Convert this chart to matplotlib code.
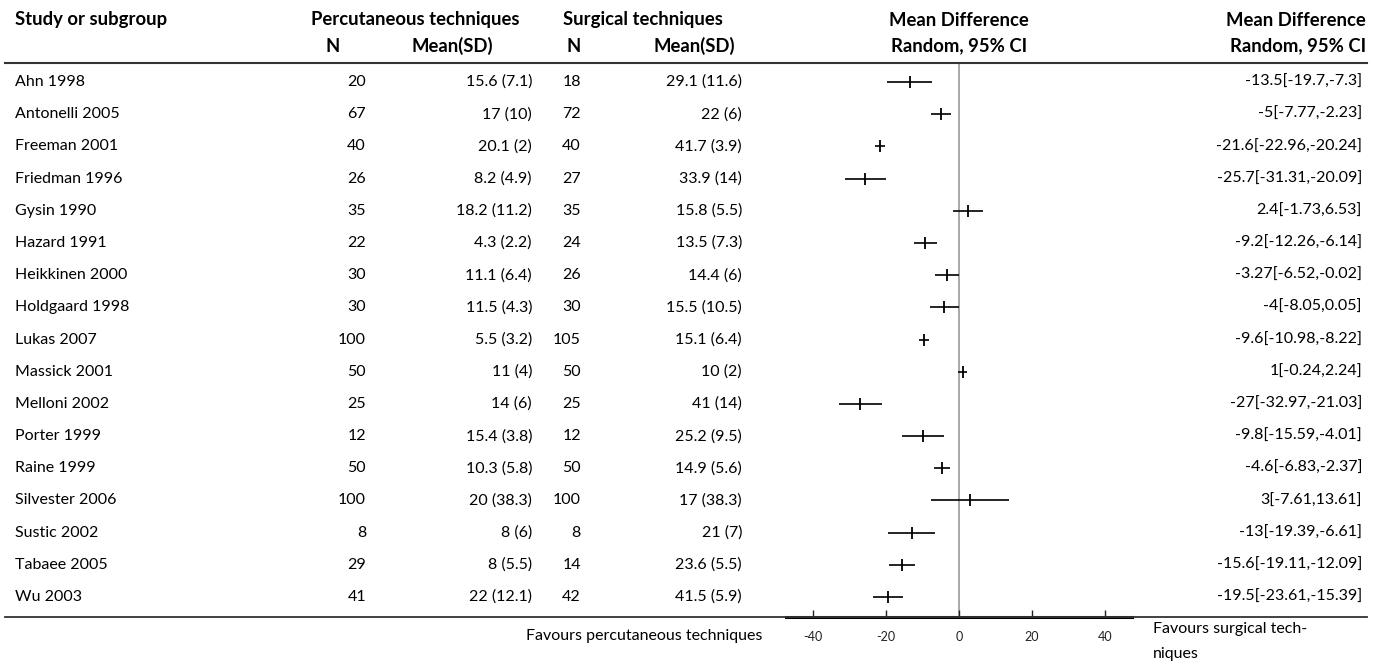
import matplotlib
matplotlib.use('Agg')
import matplotlib.pyplot as plt
import matplotlib.transforms as mtransforms

## data
studies    = ['Ahn 1998', 'Antonelli 2005', 'Freeman 2001', 'Friedman 1996', 'Gysin 1990',
              'Hazard 1991', 'Heikkinen 2000', 'Holdgaard 1998', 'Lukas 2007', 'Massick 2001',
              'Melloni 2002', 'Porter 1999', 'Raine 1999', 'Silvester 2006', 'Sustic 2002',
              'Tabaee 2005', 'Wu 2003']
perc_n     = [20, 67, 40, 26, 35, 22, 30, 30, 100, 50, 25, 12, 50, 100, 8, 29, 41]
perc_mean  = [15.6, 17, 20.1, 8.2, 18.2, 4.3, 11.1, 11.5, 5.5, 11, 14, 15.4, 10.3, 20, 8, 8, 22]
perc_sd    = [7.1, 10, 2, 4.9, 11.2, 2.2, 6.4, 4.3, 3.2, 4, 6, 3.8, 5.8, 38.3, 6, 5.5, 12.1]
surg_n     = [18, 72, 40, 27, 35, 24, 26, 30, 105, 50, 25, 12, 50, 100, 8, 14, 42]
surg_mean  = [29.1, 22, 41.7, 33.9, 15.8, 13.5, 14.4, 15.5, 15.1, 10, 41, 25.2, 14.9, 17, 21, 23.6, 41.5]
surg_sd    = [11.6, 6, 3.9, 14, 5.5, 7.3, 6, 10.5, 6.4, 2, 14, 9.5, 5.6, 38.3, 7, 5.5, 5.9]
md         = [-13.5, -5, -21.6, -25.7, 2.4, -9.2, -3.27, -4, -9.6, 1, -27, -9.8, -4.6, 3, -13, -15.6, -19.5]
ci_lo      = [-19.7, -7.77, -22.96, -31.31, -1.73, -12.26, -6.52, -8.05, -10.98, -0.24, -32.97,
              -15.59, -6.83, -7.61, -19.39, -19.11, -23.61]
ci_hi      = [-7.3, -2.23, -20.24, -20.09, 6.53, -6.14, -0.02, 0.05, -8.22, 2.24, -21.03,
              -4.01, -2.37, 13.61, -6.61, -12.09, -15.39]
xticks     = [-40, -20, 0, 20, 40]

plt.rcParams['font.family'] = ['Lato', 'DejaVu Sans']
W, H = 1375, 666
fig = plt.figure(figsize=(W / 100, H / 100), dpi=100)

def fx(p):
    return p / W

def fy(p):
    return 1 - p / H

## forest plot axes
ax = fig.add_axes([fx(785.6), fy(617), fx(346.8), (617 - 63) / H])
rows = list(range(len(studies)))
ax.set_xlim(-47.5, 47.5)
ax.set_ylim(16.62, -0.59)
ax.axvline(0, color='#999999', lw=1.2, zorder=1)
ax.hlines(rows, ci_lo, ci_hi, color='black', lw=1.2, zorder=3)
ax.plot(md, rows, ls='none', marker='|', color='black', ms=8, mew=1.3, zorder=4)
for s in ['top', 'left', 'right']:
    ax.spines[s].set_visible(False)
ax.spines['bottom'].set_linewidth(2.2)
ax.set_yticks([])
ax.set_xticks(xticks)
ax.set_xticklabels([str(t) for t in xticks])
ax.tick_params(axis='x', direction='in', length=5, width=1, labelsize=9, pad=10, colors='#222222')

## table text
tr = mtransforms.blended_transform_factory(fig.transFigure, ax.transData)
fs = 11.5
for i in rows:
    fig.text(fx(15), i, studies[i], transform=tr, fontsize=fs, va='center', ha='left')
    fig.text(fx(366), i, str(perc_n[i]), transform=tr, fontsize=fs, va='center', ha='right')
    fig.text(fx(532), i, f'{perc_mean[i]:g} ({perc_sd[i]:g})', transform=tr, fontsize=fs, va='center', ha='right')
    fig.text(fx(581), i, str(surg_n[i]), transform=tr, fontsize=fs, va='center', ha='right')
    fig.text(fx(742), i, f'{surg_mean[i]:g} ({surg_sd[i]:g})', transform=tr, fontsize=fs, va='center', ha='right')
    fig.text(fx(1362), i, f'{md[i]:g}[{ci_lo[i]:g},{ci_hi[i]:g}]', transform=tr, fontsize=fs, va='center', ha='right')

## headers
hb = dict(fontsize=13.3, fontweight='bold', va='center')
fig.text(fx(15), fy(20), 'Study or subgroup', ha='left', **hb)
fig.text(fx(415), fy(20), 'Percutaneous techniques', ha='center', **hb)
fig.text(fx(643), fy(20), 'Surgical techniques', ha='center', **hb)
fig.text(fx(959), fy(20), 'Mean Difference', ha='center', **hb)
fig.text(fx(1366), fy(20), 'Mean Difference', ha='right', **hb)
fig.text(fx(333), fy(46), 'N', ha='center', **hb)
fig.text(fx(452), fy(46), 'Mean(SD)', ha='center', **hb)
fig.text(fx(574), fy(46), 'N', ha='center', **hb)
fig.text(fx(694), fy(46), 'Mean(SD)', ha='center', **hb)
fig.text(fx(959), fy(46), 'Random, 95% CI', ha='center', **hb)
fig.text(fx(1366), fy(46), 'Random, 95% CI', ha='right', **hb)

## rules
fig.add_artist(plt.Line2D([fx(5), fx(1367)], [fy(63), fy(63)], color='#333333', lw=1.5))
fig.add_artist(plt.Line2D([fx(5), fx(1367)], [fy(617), fy(617)], color='#333333', lw=1.3))

## footer
fig.text(fx(762), fy(636), 'Favours percutaneous techniques', ha='right', va='center', fontsize=fs)
fig.text(fx(1153), fy(622), 'Favours surgical tech-\nniques', ha='left', va='top', fontsize=fs, linespacing=2.0)

fig.savefig('out.png', dpi=100)
